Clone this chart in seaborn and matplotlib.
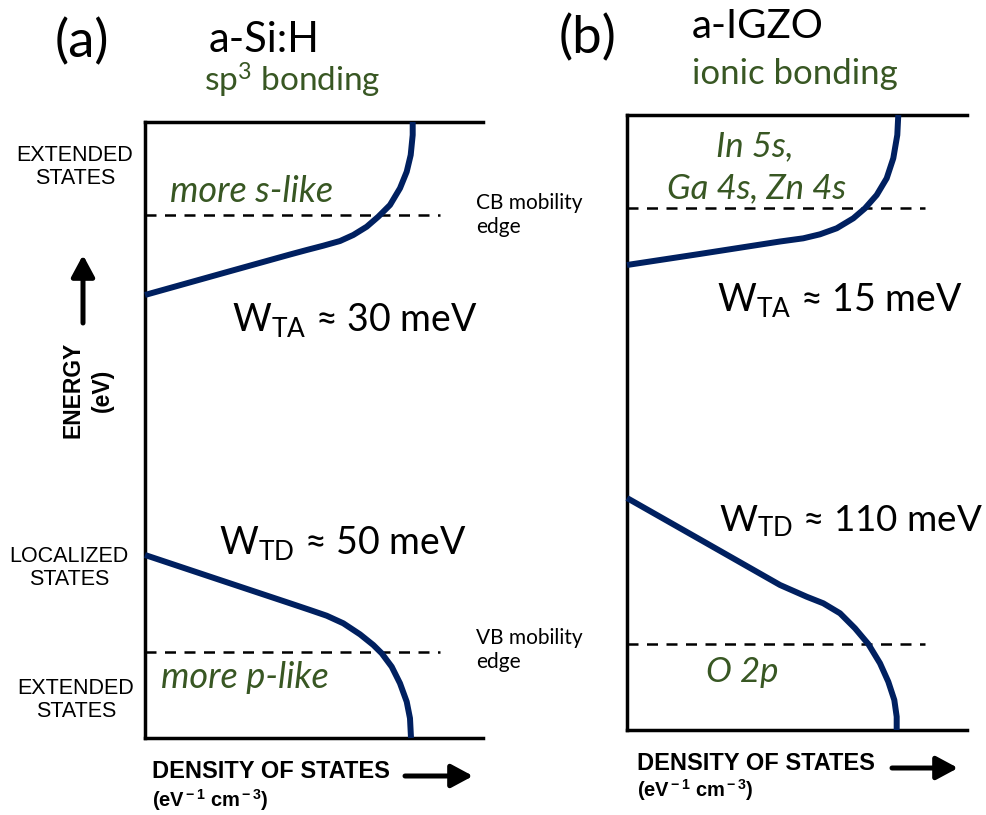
import numpy as np
import pandas as pd
import matplotlib
matplotlib.use("Agg")
import matplotlib.pyplot as plt
import seaborn as sns

# ---------------- data (schematic DOS, normalised units) ----------------
# panel (a) a-Si:H
a_cb_dos = [0.0, 0.2515, 0.4290, 0.4784, 0.5275, 0.5769, 0.6163, 0.6559, 0.6902, 0.7249,
            0.7544, 0.7743, 0.7861, 0.7920, 0.7920]
a_cb_energy = [0.7192, 0.7578, 0.7849, 0.7922, 0.7992, 0.8068, 0.8166, 0.8300, 0.8463, 0.8653,
               0.8924, 0.9193, 0.9464, 0.9789, 1.0]
a_vb_dos = [0.0, 0.2219, 0.4290, 0.4882, 0.5376, 0.5867, 0.6361, 0.6754, 0.7003, 0.7299,
            0.7544, 0.7743, 0.7840, 0.7870]
a_vb_energy = [0.2971, 0.2565, 0.2187, 0.2078, 0.1985, 0.1862, 0.1683, 0.1510, 0.1375, 0.1157,
               0.0888, 0.0589, 0.0320, 0.0]
a_mobility_edges = [0.849, 0.139]
a_edge_extent = 0.873

# panel (b) a-IGZO
b_cb_dos = [0.0, 0.2147, 0.45, 0.5185, 0.5676, 0.6168, 0.6656, 0.70, 0.7344, 0.7638,
            0.7832, 0.7950, 0.7979]
b_cb_energy = [0.7561, 0.7741, 0.7943, 0.7995, 0.8060, 0.8158, 0.8320, 0.8483, 0.8699, 0.8971,
               0.9296, 0.9675, 1.0]
b_vb_dos = [0.0, 0.2147, 0.45, 0.5285, 0.5774, 0.6265, 0.6706, 0.7097, 0.7441, 0.7685,
            0.7862, 0.7932, 0.7932]
b_vb_energy = [0.3772, 0.3098, 0.2358, 0.2167, 0.2060, 0.1898, 0.1654, 0.1398, 0.1085, 0.0785,
               0.0488, 0.0216, 0.0]
b_mobility_edges = [0.848, 0.140]
b_edge_extent = 0.876

panel_labels = ["(a)", "(b)"]
materials = ["a-Si:H", "a-IGZO"]
bondings = [r"sp$^{3}$ bonding", "ionic bonding"]
tail_labels_a = [r"W$_{\rm TA}$ ≈ 30 meV", r"W$_{\rm TD}$ ≈ 50 meV"]
tail_labels_b = [r"W$_{\rm TA}$ ≈ 15 meV", r"W$_{\rm TD}$ ≈ 110 meV"]

# ---------------- style ----------------
sns.set_style("white")
plt.rcParams["font.family"] = ["Lato", "DejaVu Sans"]
plt.rcParams["text.color"] = "black"
plt.rcParams["mathtext.fontset"] = "custom"
plt.rcParams["mathtext.rm"] = "Lato"
plt.rcParams["mathtext.it"] = "Lato:italic"
plt.rcParams["mathtext.bf"] = "Liberation Sans:bold"

NAVY = "#002060"
GREEN = "#385723"
W, H = 986, 815

fig = plt.figure(figsize=(W / 100, H / 100), dpi=100)


def F(x, y):
    return (x / W, 1 - y / H)


def make_axes(left, top, right, bottom):
    ax = fig.add_axes([left / W, 1 - bottom / H, (right - left) / W, (bottom - top) / H])
    ax.set_xlim(0, 1)
    ax.set_ylim(0, 1)
    for s in ["left", "top", "bottom"]:
        ax.spines[s].set_linewidth(2.5)
        ax.spines[s].set_color("black")
        ax.spines[s].set_capstyle("projecting")
    ax.spines["right"].set_visible(False)
    ax.set_xticks([])
    ax.set_yticks([])
    ax.patch.set_alpha(0)
    return ax


axa = make_axes(145, 122, 483, 738)
axb = make_axes(627, 115, 967, 730)

for ax, cbx, cby, vbx, vby, edges, ext in [
    (axa, a_cb_dos, a_cb_energy, a_vb_dos, a_vb_energy, a_mobility_edges, a_edge_extent),
    (axb, b_cb_dos, b_cb_energy, b_vb_dos, b_vb_energy, b_mobility_edges, b_edge_extent),
]:
    for e in edges:
        ax.plot([0, ext], [e, e], color="black", lw=1.8, linestyle=(0, (4.4, 3.4)), zorder=2)
    sns.lineplot(x=cbx, y=cby, ax=ax, sort=False, estimator=None, color=NAVY, lw=4.3,
                 zorder=3, clip_on=False)
    sns.lineplot(x=vbx, y=vby, ax=ax, sort=False, estimator=None, color=NAVY, lw=4.3,
                 zorder=3, clip_on=False)
    for line in ax.lines:
        line.set_solid_joinstyle("round")
        line.set_solid_capstyle("butt")
    ax.set_xlabel("")
    ax.set_ylabel("")

# ---------------- titles ----------------
fig.text(*F(82, 42), panel_labels[0], fontsize=38, ha="center", va="center")
fig.text(*F(588, 38), panel_labels[1], fontsize=38, ha="center", va="center")
fig.text(*F(264, 40), materials[0], fontsize=30, ha="center", va="center")
fig.text(*F(758, 27), materials[1], fontsize=29, ha="center", va="center")
fig.text(*F(292, 80), bondings[0], fontsize=24, ha="center", va="center", color=GREEN)
fig.text(*F(795, 74), bondings[1], fontsize=25, ha="center", va="center", color=GREEN)

# ---------------- state labels ----------------
arial = ["Liberation Sans", "DejaVu Sans"]
for x, y, t in [(75, 167, "EXTENDED\nSTATES"), (69, 568, "LOCALIZED\nSTATES"),
                (76, 700, "EXTENDED\nSTATES")]:
    fig.text(*F(x, y), t, fontsize=15.5, ha="center", va="center", family=arial,
             linespacing=1.15)

fig.text(*F(476, 215), "CB mobility\nedge", fontsize=15, ha="left", va="center", linespacing=1.2)
fig.text(*F(476, 650), "VB mobility\nedge", fontsize=15, ha="left", va="center", linespacing=1.2)

# ---------------- orbital labels ----------------
fig.text(*F(252, 192), "more s-like", fontsize=26, style="italic", color=GREEN, ha="center", va="center")
fig.text(*F(245, 677), "more p-like", fontsize=26, style="italic", color=GREEN, ha="center", va="center")
fig.text(*F(755, 146), "In 5s,", fontsize=25, style="italic", color=GREEN, ha="center", va="center")
fig.text(*F(757, 188), "Ga 4s, Zn 4s", fontsize=25, style="italic", color=GREEN, ha="center", va="center")
fig.text(*F(742, 672), "O 2p", fontsize=25, style="italic", color=GREEN, ha="center", va="center")

# ---------------- tail widths ----------------
fig.text(*F(232, 320), tail_labels_a[0], fontsize=27, ha="left", va="center")
fig.text(*F(219, 543), tail_labels_a[1], fontsize=27, ha="left", va="center")
fig.text(*F(717, 300), tail_labels_b[0], fontsize=27, ha="left", va="center")
fig.text(*F(719, 521), tail_labels_b[1], fontsize=26.5, ha="left", va="center")

# ---------------- axis labels ----------------
fig.text(*F(73, 390), "ENERGY", fontsize=16.5, weight="bold", family=arial, rotation=90,
         ha="center", va="center")
fig.text(*F(102, 390), "(eV)", fontsize=16.5, weight="bold", family=arial, rotation=90,
         ha="center", va="center")
fig.text(*F(152, 772), "DENSITY OF STATES", fontsize=17, weight="bold", family=arial,
         ha="left", va="center")
fig.text(*F(152, 800), r"(eV$^{\bf -1}$ cm$^{\bf -3}$)", fontsize=14.5, weight="bold", family=arial,
         ha="left", va="center")
fig.text(*F(637, 763), "DENSITY OF STATES", fontsize=17, weight="bold", family=arial,
         ha="left", va="center")
fig.text(*F(637, 790), r"(eV$^{\bf -1}$ cm$^{\bf -3}$)", fontsize=14.5, weight="bold", family=arial,
         ha="left", va="center")

arrow_kw = dict(arrowstyle="-|>,head_length=0.65,head_width=0.35", lw=3.6, color="black",
                shrinkA=0, shrinkB=0, mutation_scale=20)
fig.add_artist(matplotlib.patches.FancyArrowPatch(F(83, 323), F(83, 255), transform=fig.transFigure, **arrow_kw))
fig.add_artist(matplotlib.patches.FancyArrowPatch(F(405, 776), F(473, 776), transform=fig.transFigure, **arrow_kw))
fig.add_artist(matplotlib.patches.FancyArrowPatch(F(892, 768), F(958, 768), transform=fig.transFigure, **arrow_kw))

fig.savefig("out.png", dpi=100, facecolor="white")
